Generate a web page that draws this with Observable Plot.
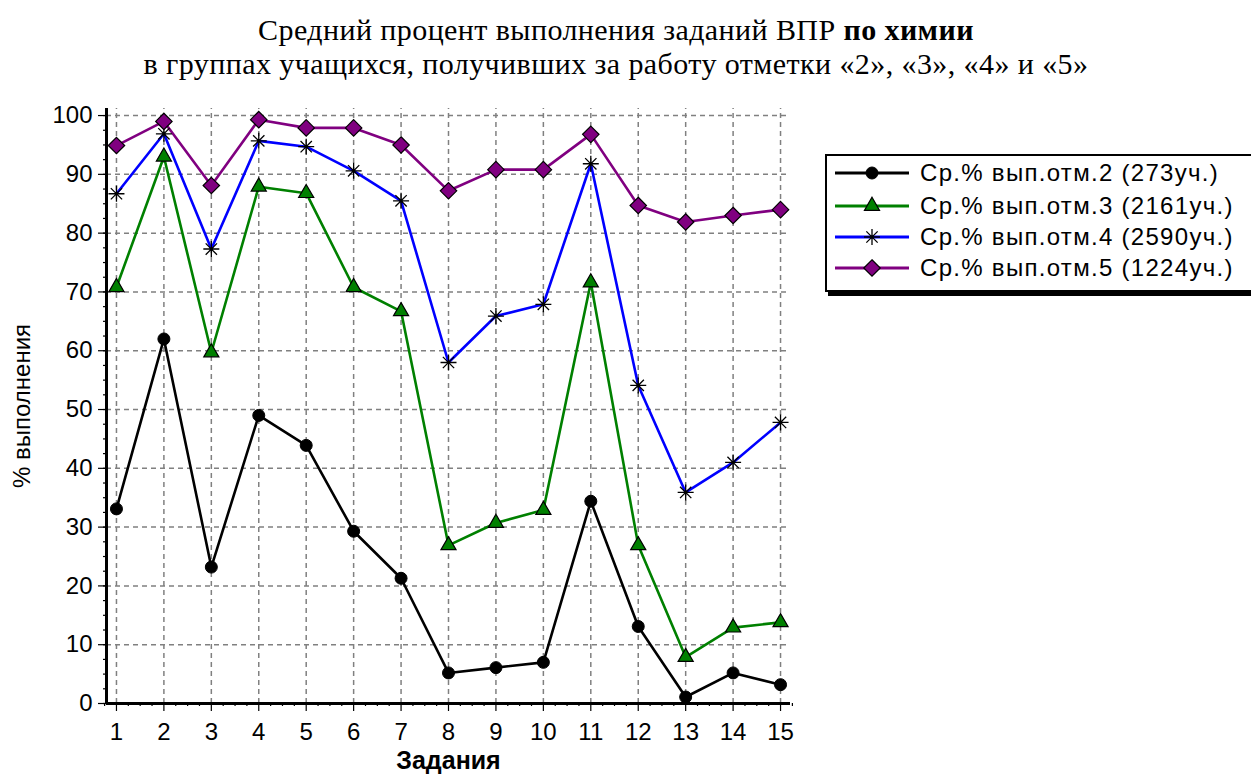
<!DOCTYPE html>
<html>
<head>
<meta charset="utf-8">
<script src="https://cdn.jsdelivr.net/npm/d3@7"></script>
<script src="https://cdn.jsdelivr.net/npm/@observablehq/plot@0.6"></script>
<style>
  html, body { margin: 0; padding: 0; background: #fff; }
  body { width: 1251px; height: 776px; overflow: hidden; position: relative; }
  #title { position: absolute; left: 0; top: 13px; width: 1232px; text-align: center;
           font-family: "Liberation Serif", "Times New Roman", serif; font-size: 30px;
           line-height: 34px; letter-spacing: 0.42px; color: #000; white-space: nowrap; }
  #title div { height: 34px; }
  #chart { position: absolute; left: 0; top: 88px; }
  #legend { position: absolute; left: 825px; top: 154px; width: 470px; height: 134px;
            border: 2px solid #000; box-shadow: 3px 4px 0 #000; background: #fff; }
</style>
</head>
<body>
<div id="title"><div>Средний процент выполнения заданий ВПР <b>по химии</b></div><div>в группах учащихся, получивших за работу отметки «2», «3», «4» и «5»</div></div>
<div id="chart"></div>
<div id="legend"></div>
<script>
// ---- data ----
const tasks = [1, 2, 3, 4, 5, 6, 7, 8, 9, 10, 11, 12, 13, 14, 15];
const grade2 = [33.1, 62, 23.2, 49, 43.9, 29.3, 21.3, 5.2, 6.1, 7, 34.4, 13.1, 1.1, 5.2, 3.2];
const grade3 = [70.8, 93, 59.7, 87.9, 86.8, 70.8, 66.7, 26.9, 30.7, 32.9, 71.6, 26.9, 7.9, 12.9, 13.8];
const grade4 = [86.7, 96.9, 77.3, 95.7, 94.7, 90.6, 85.5, 58, 65.9, 67.9, 91.8, 54.1, 35.9, 41, 47.8];
const grade5 = [94.9, 99, 88.1, 99.3, 97.9, 97.9, 95, 87.2, 90.8, 90.8, 96.8, 84.7, 81.9, 83, 84];
const seriesLabels = ["Ср.% вып.отм.2 (273уч.)", "Ср.% вып.отм.3 (2161уч.)", "Ср.% вып.отм.4 (2590уч.)", "Ср.% вып.отм.5 (1224уч.)"];
const seriesColors = ["#000000", "#008000", "#0000ff", "#800080"];
const yTicks = [0, 10, 20, 30, 40, 50, 60, 70, 80, 90, 100];
const yMinorTicks = d3.range(0, 100.01, 2.5);
const xMinorTicks = d3.range(0.75, 15.26, 0.25).filter(v => Math.abs(v - Math.round(v)) > 1e-6);
const yTitle = "% выполнения";
const xTitle = "Задания";

const allSeries = [grade2, grade3, grade4, grade5];
const rows = allSeries.flatMap((vals, i) => vals.map((v, j) => ({task: tasks[j], value: v, series: seriesLabels[i]})));
const bySeries = seriesLabels.map(s => rows.filter(r => r.series === s));

const asterisk8 = {
  draw(context, size) {
    const r = Math.sqrt(size / Math.PI);
    const d = r * Math.SQRT1_2;
    context.moveTo(0, -r); context.lineTo(0, r);
    context.moveTo(-r, 0); context.lineTo(r, 0);
    context.moveTo(-d, -d); context.lineTo(d, d);
    context.moveTo(-d, d); context.lineTo(d, -d);
  }
};
const markerStyles = [
  {symbol: "circle", r: 6, fill: "#000", stroke: "#000", strokeWidth: 1},
  {symbol: "triangle", r: 5.6, fill: "#008000", stroke: "#000", strokeWidth: 1.2},
  {symbol: asterisk8, r: 8, fill: "none", stroke: "#000", strokeWidth: 1.3},
  {symbol: "diamond2", r: 7.4, fill: "#800080", stroke: "#000", strokeWidth: 1.2}
];

const yTop = 101.2;
const grid = {stroke: "#808080", strokeDasharray: "5,4", strokeWidth: 1.5, strokeOpacity: 1};

const chart = Plot.plot({
  width: 1251,
  height: 688,
  marginTop: 20,
  marginBottom: 73,
  marginLeft: 106,
  marginRight: 461,
  style: {fontFamily: "Liberation Sans, Arial, sans-serif", fontSize: "24px", color: "#000", background: "transparent", overflow: "visible"},
  x: {domain: [0.79, 15.21]},
  y: {domain: [0, yTop]},
  color: {domain: seriesLabels, range: seriesColors},
  marks: [
    Plot.ruleY(yTicks.filter(d => d > 0), grid),
    Plot.ruleX(tasks, {...grid, y1: 0, y2: yTop}),
    Plot.line(rows, {x: "task", y: "value", z: "series", stroke: "series", strokeWidth: 2.6}),
    ...bySeries.map((data, i) => Plot.dot(data, {x: "task", y: "value", ...markerStyles[i]})),
    Plot.axisY(yMinorTicks, {tickSize: 3, text: null, label: null, strokeWidth: 1.2}),
    Plot.axisY(yTicks, {tickSize: 8, tickPadding: 6, label: null, strokeWidth: 1.2, fontSize: 24}),
    Plot.axisX(xMinorTicks, {tickSize: 3, text: null, label: null, strokeWidth: 1.2}),
    Plot.axisX(tasks, {tickSize: 8, tickPadding: 11, label: null, strokeWidth: 1.2, fontSize: 24, tickFormat: d => String(d)}),
    Plot.ruleX([0.79], {stroke: "#000", strokeWidth: 3, y1: 0, y2: yTop}),
    Plot.ruleY([0], {stroke: "#000", strokeWidth: 3}),
    Plot.text([yTitle], {frameAnchor: "left", dx: -84, rotate: -90, text: d => d, fontSize: 24, lineAnchor: "middle", textAnchor: "middle"}),
    Plot.text([xTitle], {frameAnchor: "bottom", dy: 57, text: d => d, fontSize: 25, fontWeight: "bold", lineAnchor: "middle"})
  ]
});
document.getElementById("chart").appendChild(chart);

// ---- legend ----
const legendSvg = d3.select("#legend").append("svg").attr("width", 470).attr("height", 134);
const rowY = [17, 50, 81, 112];
seriesLabels.forEach((label, i) => {
  const g = legendSvg.append("g").attr("transform", `translate(0,${rowY[i]})`);
  g.append("line").attr("x1", 8).attr("x2", 82).attr("y1", 0).attr("y2", 0)
    .attr("stroke", seriesColors[i]).attr("stroke-width", 3);
  const ms = markerStyles[i];
  const sym = typeof ms.symbol === "string"
    ? {circle: d3.symbolCircle, triangle: d3.symbolTriangle, diamond2: d3.symbolDiamond2}[ms.symbol]
    : ms.symbol;
  g.append("path").attr("transform", "translate(45,0)")
    .attr("d", d3.symbol(sym, Math.PI * ms.r * ms.r)())
    .attr("fill", ms.fill).attr("stroke", ms.stroke).attr("stroke-width", ms.strokeWidth);
  g.append("text").attr("x", 93).attr("y", 0).attr("dy", "0.35em")
    .attr("font-family", "Liberation Sans, Arial, sans-serif").attr("font-size", 24)
    .attr("letter-spacing", "1.3px").attr("fill", "#000").text(label);
});
</script>
</body>
</html>
